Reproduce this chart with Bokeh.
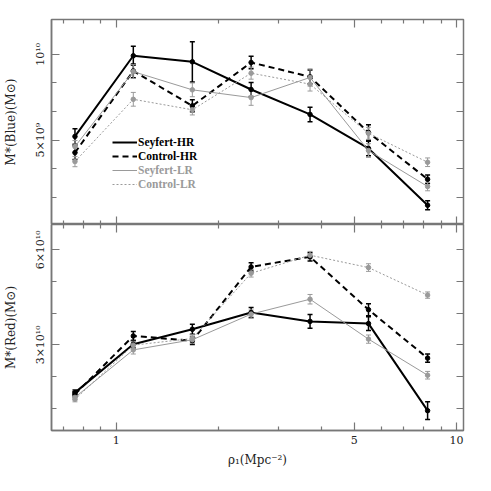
import numpy as np
from bokeh.plotting import figure
from bokeh.models import (Range1d, FixedTicker, LinearAxis, LogAxis, Whisker,
                          TeeHead, ColumnDataSource, Legend, LegendItem)
from bokeh.layouts import column
from bokeh.embed import file_html
from bokeh.resources import INLINE

# density rho_1 (Mpc^-2)
rho = [0.756, 1.122, 1.673, 2.49, 3.71, 5.51, 8.22]

# Blue stellar mass, units of 1e9 Msun
blue_sey_hr = [5.22, 9.91, 9.56, 7.95, 6.50, 4.52, 1.22]
blue_con_hr = [4.28, 9.03, 7.00, 9.52, 8.69, 5.45, 2.73]
blue_sey_lr = [4.63, 8.99, 7.93, 7.48, 8.65, 4.40, 2.31]
blue_con_lr = [3.76, 7.38, 6.77, 8.90, 8.26, 5.40, 3.72]
blue_sey_hr_err = [0.45, 0.55, 1.17, 0.40, 0.42, 0.42, 0.26]
blue_con_hr_err = [0.40, 0.40, 0.35, 0.37, 0.40, 0.45, 0.25]
blue_sey_lr_err = [0.35, 0.40, 0.40, 0.45, 0.50, 0.40, 0.25]
blue_con_lr_err = [0.30, 0.40, 0.30, 0.35, 0.40, 0.35, 0.25]

# Red stellar mass, units of 1e10 Msun
red_sey_hr = [1.49, 3.02, 3.49, 4.02, 3.74, 3.67, 0.92]
red_con_hr = [1.44, 3.28, 3.13, 5.46, 5.78, 4.11, 2.58]
red_sey_lr = [1.34, 2.84, 3.16, 3.97, 4.44, 3.18, 2.04]
red_con_lr = [1.28, 2.99, 3.20, 5.26, 5.83, 5.44, 4.57]
red_sey_hr_err = [0.08, 0.12, 0.16, 0.16, 0.22, 0.22, 0.28]
red_con_hr_err = [0.08, 0.14, 0.12, 0.13, 0.13, 0.19, 0.13]
red_sey_lr_err = [0.08, 0.13, 0.12, 0.13, 0.15, 0.13, 0.12]
red_con_lr_err = [0.08, 0.12, 0.12, 0.12, 0.12, 0.12, 0.10]

series_names = ["Seyfert-HR", "Control-HR", "Seyfert-LR", "Control-LR"]

x_ticks = [1, 5, 10]
x_minor = [0.7, 0.8, 0.9, 2, 3, 4, 6, 7, 8, 9]
x_labels = {1: "1", 5: "5", 10: "10"}

blue_ticks = [5, 10]
blue_minor = [5 / 3, 10 / 3, 20 / 3, 25 / 3]
blue_labels = {5: "5×10⁹", 10: "10¹⁰"}
red_ticks = [3, 6]
red_minor = [1, 2, 4, 5]
red_labels = {3: "3×10¹⁰", 6: "6×10¹⁰"}

XR = (0.645, 10.48)

FONT = "DejaVu Serif"
LFONT = "Liberation Serif"
FRAME = "#777777"
TXT = "#222222"
BLACK = "#000000"
GRAY = "#9a9a9a"

styles = [
    dict(color=BLACK, width=2, dash="solid"),
    dict(color=BLACK, width=2, dash="6 4"),
    dict(color=GRAY, width=1, dash="solid"),
    dict(color=GRAY, width=1, dash="2 2"),
]


def style_axis(ax, minor_len):
    ax.major_tick_in = 8
    ax.major_tick_out = 0
    ax.minor_tick_in = minor_len
    ax.minor_tick_out = 0
    ax.axis_line_color = FRAME
    ax.axis_line_width = 1.5
    ax.major_tick_line_color = FRAME
    ax.minor_tick_line_color = FRAME
    ax.major_tick_line_width = 1.2
    ax.minor_tick_line_width = 1.2
    ax.major_label_text_font = FONT
    ax.major_label_text_color = TXT
    ax.major_label_text_font_size = "11px"
    ax.axis_label_text_font = FONT
    ax.axis_label_text_font_style = "normal"
    ax.axis_label_text_font_size = "12px"
    ax.axis_label_text_color = TXT


def tick_only(p, cls, side, positions, length, loc):
    # mirrored ticks drawn inside the frame, no labels, no space taken
    ax = cls(ticker=FixedTicker(ticks=[], minor_ticks=positions), fixed_location=loc)
    ax.axis_line_color = None
    ax.major_tick_line_color = None
    ax.minor_tick_in = length
    ax.minor_tick_out = 0
    ax.minor_tick_line_color = FRAME
    ax.minor_tick_line_width = 1.2
    p.add_layout(ax, side)


def make_panel(frame_h, yr, yticks, yminor, ylabels, ylabel, ys, errs,
               bottom_labels, mb_top, mb_bottom):
    p = figure(frame_width=412, frame_height=frame_h,
               x_axis_type="log", x_axis_location="below" if bottom_labels else None,
               x_range=Range1d(*XR), y_range=Range1d(*yr),
               output_backend="svg", toolbar_location=None,
               min_border_left=45, min_border_right=18,
               min_border_top=mb_top, min_border_bottom=mb_bottom)
    p.outline_line_color = FRAME
    p.outline_line_width = 1.5
    p.xgrid.grid_line_color = None
    p.ygrid.grid_line_color = None

    if bottom_labels:
        bx = p.xaxis[0]
        bx.ticker = FixedTicker(ticks=x_ticks, minor_ticks=x_minor)
        bx.major_label_overrides = x_labels
        style_axis(bx, 4)
        bx.major_label_standoff = 5
        bx.axis_label = "ρ₁(Mpc⁻²)"
        bx.axis_label_standoff = 6
    else:
        tick_only(p, LogAxis, "below", x_ticks, 8, yr[0])
        tick_only(p, LogAxis, "below", x_minor, 4, yr[0])

    ly = p.yaxis[0]
    ly.ticker = FixedTicker(ticks=yticks, minor_ticks=yminor)
    ly.major_label_overrides = ylabels
    ly.major_label_orientation = "vertical"
    style_axis(ly, 5)
    ly.major_label_standoff = 4
    ly.axis_label = ylabel
    ly.axis_label_standoff = 14

    tick_only(p, LogAxis, "above", x_ticks, 8, yr[1])
    tick_only(p, LogAxis, "above", x_minor, 4, yr[1])
    tick_only(p, LinearAxis, "right", yticks + yminor, 7, XR[1])

    rends = []
    for yv, ev, st in zip(ys, errs, styles):
        yv = np.array(yv)
        ev = np.array(ev)
        src = ColumnDataSource(dict(x=rho, y=yv, lo=yv - ev, hi=yv + ev))
        r = p.line("x", "y", source=src, line_color=st["color"],
                   line_width=st["width"], line_dash=st["dash"])
        p.scatter("x", "y", source=src, marker="circle", size=4.5,
                  fill_color=st["color"], line_color=st["color"])
        lw = 1.5 if st["width"] > 1 else 1
        w = Whisker(source=src, base="x", lower="lo", upper="hi",
                    dimension="height", line_color=st["color"], line_width=lw,
                    upper_head=TeeHead(size=5, line_color=st["color"], line_width=lw),
                    lower_head=TeeHead(size=5, line_color=st["color"], line_width=lw))
        p.add_layout(w)
        rends.append(r)
    return p, rends


top, trs = make_panel(205, (0.1, 12.02), blue_ticks, blue_minor, blue_labels,
                      "M*(Blue)(M⊙)",
                      [blue_sey_hr, blue_con_hr, blue_sey_lr, blue_con_lr],
                      [blue_sey_hr_err, blue_con_hr_err, blue_sey_lr_err, blue_con_lr_err],
                      False, 19, 0)

for items, loc, col in [([0, 1], (61, 61), BLACK), ([2, 3], (61, 33), GRAY)]:
    leg = Legend(items=[LegendItem(label=series_names[i], renderers=[trs[i]]) for i in items],
                 location=loc, border_line_color=None, background_fill_alpha=0,
                 padding=0, margin=0, spacing=0, glyph_width=25, glyph_height=14,
                 label_height=14, label_standoff=1, label_text_font=LFONT,
                 label_text_font_style="bold",
                 label_text_font_size="11.5px", label_text_color=col)
    top.add_layout(leg)

bot, _ = make_panel(206, (0.294, 6.80), red_ticks, red_minor, red_labels,
                    "M*(Red)(M⊙)",
                    [red_sey_hr, red_con_hr, red_sey_lr, red_con_lr],
                    [red_sey_hr_err, red_con_hr_err, red_sey_lr_err, red_con_lr_err],
                    True, 0, 45)

layout = column(top, bot, spacing=0)
open("out.html", "w").write(file_html(layout, INLINE))
